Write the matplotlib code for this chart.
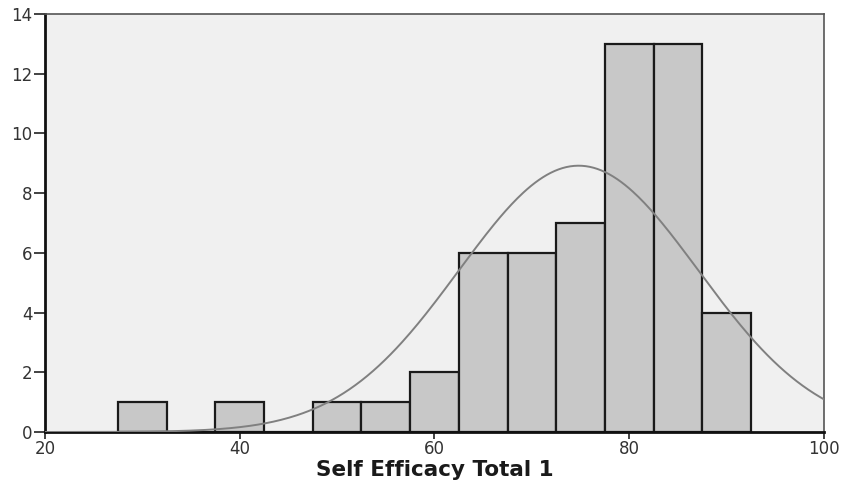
import numpy as np
import matplotlib
matplotlib.use("Agg")
import matplotlib.pyplot as plt

bin_edges = [27.5, 32.5, 37.5, 42.5, 47.5, 52.5, 57.5, 62.5, 67.5, 72.5, 77.5, 82.5, 87.5, 92.5]
counts = [1, 0, 1, 0, 1, 1, 2, 6, 6, 7, 13, 13, 4]
fit_mean = 74.8
fit_sd = 12.3
n_total = sum(counts)
bin_width = 5.0
x_ticks = [20, 40, 60, 80, 100]
y_ticks = [0, 2, 4, 6, 8, 10, 12, 14]
x_label = "Self Efficacy Total 1"

plt.rcParams['font.family'] = ['DejaVu Sans']

fig = plt.figure(figsize=(8.42, 4.84), dpi=100)
ax = fig.add_axes([45/842, 52/484, 779/842, 418/484])
ax.set_facecolor('#F0F0F0')

lefts = bin_edges[:-1]
ax.bar(lefts, counts, width=bin_width, align='edge', color='#C8C8C8',
       edgecolor='#1a1a1a', linewidth=1.6, zorder=2)

xs = np.linspace(20, 100, 400)
ys = n_total * bin_width / (fit_sd * np.sqrt(2 * np.pi)) * np.exp(-0.5 * ((xs - fit_mean) / fit_sd) ** 2)
ax.plot(xs, ys, color='#808080', linewidth=1.4, zorder=3)

ax.set_xlim(20, 100)
ax.set_ylim(0, 14)
ax.set_xticks(x_ticks)
ax.set_yticks(y_ticks)
ax.tick_params(axis='both', direction='out', width=1.2, color='#222222',
               labelsize=12, labelcolor='#333333')
ax.tick_params(axis='x', length=5, pad=1)
ax.tick_params(axis='y', length=8, pad=1)

ax.spines['left'].set_color('#111111')
ax.spines['left'].set_linewidth(2)
ax.spines['bottom'].set_color('#111111')
ax.spines['bottom'].set_linewidth(2)
ax.spines['top'].set_color('#555555')
ax.spines['top'].set_linewidth(1.2)
ax.spines['right'].set_color('#555555')
ax.spines['right'].set_linewidth(1.2)

ax.set_xlabel(x_label, fontsize=15.5, fontweight='bold', color='#1a1a1a', labelpad=1)

fig.savefig('out.png', dpi=100, facecolor='white')
